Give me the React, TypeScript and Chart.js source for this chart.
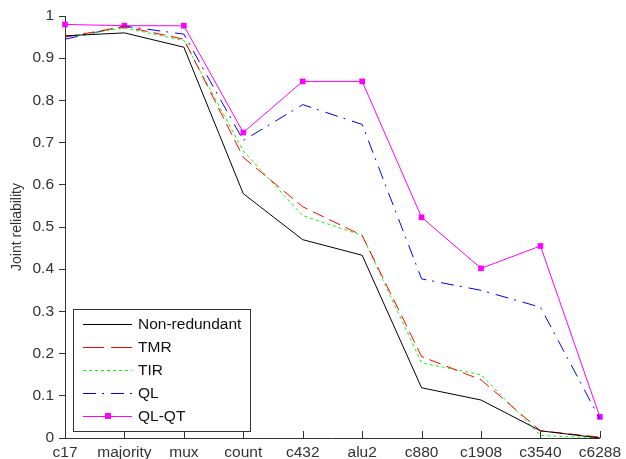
import React, { useEffect, useRef } from "react";
import { Chart, registerables } from "chart.js";

Chart.register(...registerables);

const categories = ["c17", "majority", "mux", "count", "c432", "alu2", "c880", "c1908", "c3540", "c6288"];
const nonRedundant = [0.953, 0.96, 0.926, 0.579, 0.47, 0.433, 0.119, 0.09, 0.017, 0.0];
const tmr = [0.95, 0.975, 0.945, 0.665, 0.548, 0.48, 0.193, 0.138, 0.017, 0.002];
const tir = [0.95, 0.972, 0.942, 0.68, 0.527, 0.48, 0.178, 0.15, 0.006, 0.0];
const ql = [0.945, 0.976, 0.957, 0.705, 0.79, 0.743, 0.377, 0.35, 0.31, 0.045];
const qlqt = [0.98, 0.977, 0.977, 0.724, 0.845, 0.845, 0.523, 0.402, 0.455, 0.05];

const FONT = "Arial, 'Liberation Sans', sans-serif";

const legendItems = [
  { label: "Non-redundant", color: "#000000", dash: [] as number[], marker: false },
  { label: "TMR", color: "#ff0000", dash: [21, 7], marker: false },
  { label: "TIR", color: "#00ff00", dash: [3, 3], marker: false },
  { label: "QL", color: "#0000ff", dash: [13, 6, 2, 7], marker: false },
  { label: "QL-QT", color: "#ff00ff", dash: [] as number[], marker: true },
];

const decorPlugin = {
  id: "decor",
  afterDraw(chart: any) {
    const ctx = chart.ctx;
    const xs = chart.scales.x;
    const area = chart.chartArea;
    ctx.save();
    ctx.strokeStyle = "#333333";
    ctx.lineWidth = 1;
    ctx.setLineDash([]);
    for (let i = 0; i < categories.length; i++) {
      const x = Math.round(xs.getPixelForTick(i)) + 0.5;
      ctx.beginPath();
      ctx.moveTo(x, area.bottom);
      ctx.lineTo(x, area.bottom - 7);
      ctx.stroke();
    }
    const bx = 73.5, by = 309.5, bw = 177, bh = 122;
    ctx.fillStyle = "#ffffff";
    ctx.fillRect(bx, by, bw, bh);
    ctx.strokeStyle = "#333333";
    ctx.strokeRect(bx, by, bw, bh);
    ctx.font = `15.5px ${FONT}`;
    ctx.textBaseline = "middle";
    ctx.textAlign = "left";
    legendItems.forEach((it, i) => {
      const y = Math.round(323.5 + i * 23.2) + 0.5;
      ctx.save();
      ctx.lineWidth = 1;
      ctx.strokeStyle = it.color;
      ctx.setLineDash(it.dash);
      ctx.beginPath();
      ctx.moveTo(83, y);
      ctx.lineTo(132, y);
      ctx.stroke();
      ctx.restore();
      if (it.marker) {
        ctx.fillStyle = it.color;
        ctx.fillRect(105, y - 3.5, 6, 6);
      }
      ctx.fillStyle = "#111111";
      ctx.fillText(it.label, 138, y + 0.5);
    });
    ctx.restore();
  },
};

export default function App() {
  const ref = useRef<HTMLCanvasElement | null>(null);
  useEffect(() => {
    if (!ref.current) return;
    const mk = (label: string, data: number[], color: string, dash: number[], marker = false) => ({
      label,
      data,
      borderColor: color,
      backgroundColor: color,
      borderWidth: 1,
      borderDash: dash,
      pointStyle: "rect",
      pointRadius: marker ? 4 : 0,
      pointHoverRadius: marker ? 4 : 0,
      pointBorderWidth: 0,
      tension: 0,
      fill: false,
    });
    const chart = new Chart(ref.current, {
      type: "line",
      data: {
        labels: categories,
        datasets: [
          mk("Non-redundant", nonRedundant, "#000000", []),
          mk("TMR", tmr, "#ff0000", [12, 6]),
          mk("TIR", tir, "#00ff00", [3, 3]),
          mk("QL", ql, "#0000ff", [13, 6, 2, 7]),
          mk("QL-QT", qlqt, "#ff00ff", [], true),
        ],
      },
      options: {
        responsive: false,
        animation: false,
        events: [],
        layout: { padding: { top: 16, right: 25, left: 0, bottom: 0 } },
        plugins: { legend: { display: false }, tooltip: { enabled: false } },
        scales: {
          x: {
            type: "category",
            offset: false,
            grid: { display: true, drawOnChartArea: false, drawTicks: false },
            border: { display: true, color: "#333333", width: 1 },
            ticks: {
              autoSkip: false,
              maxRotation: 0,
              padding: 5,
              color: "#333333",
              font: { family: FONT, size: 15.5 },
            },
            afterFit: (s: any) => {
              s.height = 21;
            },
          },
          y: {
            min: 0,
            max: 1,
            grid: { display: true, drawOnChartArea: false, drawTicks: true, tickLength: 6, color: "#333333" },
            border: { display: true, color: "#333333", width: 1 },
            ticks: {
              stepSize: 0.1,
              padding: 5,
              color: "#333333",
              font: { family: FONT, size: 15.5 },
              callback: (v: any) => String(Math.round(Number(v) * 10) / 10),
            },
            title: {
              display: true,
              text: "Joint reliability",
              color: "#333333",
              font: { family: FONT, size: 14 },
              padding: { top: 9, bottom: 0 },
            },
            afterFit: (s: any) => {
              s.width = 65;
            },
          },
        },
      },
      plugins: [decorPlugin],
    } as any);
    return () => chart.destroy();
  }, []);
  return (
    <div style={{ position: "fixed", left: 0, top: 0, width: 626, height: 459, background: "#fff" }}>
      <canvas ref={ref} width={626} height={459} style={{ display: "block" }} />
    </div>
  );
}
